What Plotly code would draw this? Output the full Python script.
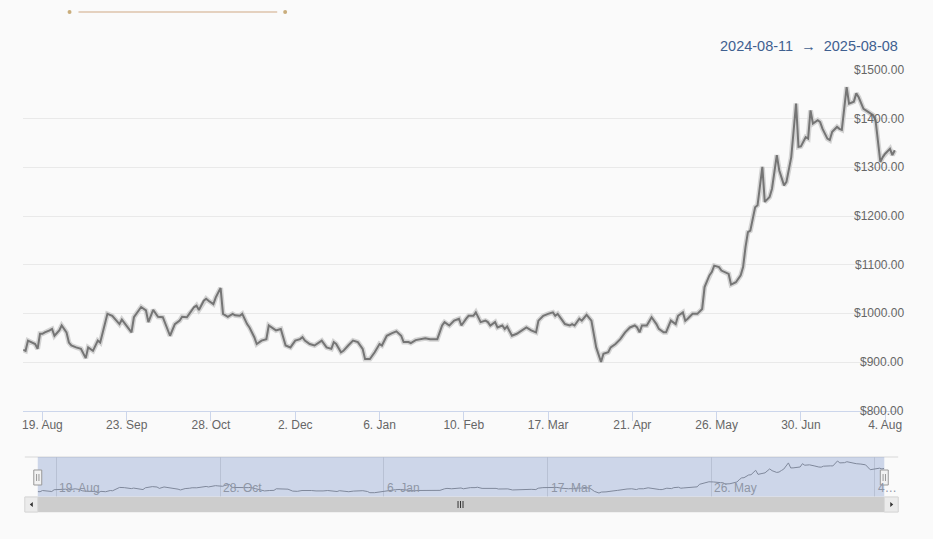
import plotly.graph_objects as go

# daily closing price
dates = [
    "2024-08-11", "2024-08-12", "2024-08-13", "2024-08-16", "2024-08-17", "2024-08-18", "2024-08-19", "2024-08-20",
    "2024-08-22", "2024-08-23", "2024-08-24", "2024-08-26", "2024-08-27", "2024-08-29", "2024-08-30", "2024-08-31",
    "2024-09-02", "2024-09-04", "2024-09-06", "2024-09-07", "2024-09-09", "2024-09-10", "2024-09-11", "2024-09-12",
    "2024-09-13", "2024-09-15", "2024-09-17", "2024-09-19", "2024-09-20", "2024-09-21", "2024-09-23", "2024-09-25",
    "2024-09-26", "2024-09-29",
    "2024-10-01", "2024-10-02", "2024-10-04", "2024-10-06", "2024-10-08", "2024-10-10", "2024-10-11", "2024-10-13",
    "2024-10-15", "2024-10-16", "2024-10-18", "2024-10-19", "2024-10-21", "2024-10-22", "2024-10-23", "2024-10-25",
    "2024-10-26", "2024-10-27", "2024-10-29", "2024-10-30",
    "2024-11-01", "2024-11-02", "2024-11-04", "2024-11-06", "2024-11-07", "2024-11-09", "2024-11-10", "2024-11-12",
    "2024-11-13", "2024-11-15", "2024-11-16", "2024-11-18", "2024-11-20", "2024-11-21", "2024-11-23", "2024-11-24",
    "2024-11-26", "2024-11-28", "2024-11-30",
    "2024-12-02", "2024-12-04", "2024-12-05", "2024-12-06", "2024-12-08", "2024-12-10", "2024-12-11", "2024-12-13",
    "2024-12-15", "2024-12-17", "2024-12-18", "2024-12-19", "2024-12-21", "2024-12-22", "2024-12-24", "2024-12-26",
    "2024-12-28", "2024-12-30", "2024-12-31",
    "2025-01-02", "2025-01-04", "2025-01-06", "2025-01-07", "2025-01-09", "2025-01-11", "2025-01-13", "2025-01-15",
    "2025-01-16", "2025-01-18", "2025-01-19", "2025-01-21", "2025-01-23", "2025-01-25", "2025-01-27", "2025-01-30",
    "2025-02-01", "2025-02-02", "2025-02-04", "2025-02-06", "2025-02-08", "2025-02-09", "2025-02-11", "2025-02-12",
    "2025-02-14", "2025-02-15", "2025-02-17", "2025-02-19", "2025-02-20", "2025-02-21", "2025-02-23", "2025-02-24",
    "2025-02-26", "2025-02-27", "2025-02-28",
    "2025-03-02", "2025-03-04", "2025-03-06", "2025-03-08", "2025-03-10", "2025-03-12", "2025-03-13", "2025-03-15",
    "2025-03-17", "2025-03-19", "2025-03-20", "2025-03-21", "2025-03-23", "2025-03-24", "2025-03-26", "2025-03-27",
    "2025-03-28", "2025-03-30", "2025-03-31",
    "2025-04-02", "2025-04-04", "2025-04-05", "2025-04-06", "2025-04-08", "2025-04-09", "2025-04-11", "2025-04-12",
    "2025-04-14", "2025-04-16", "2025-04-18", "2025-04-20", "2025-04-22", "2025-04-23", "2025-04-24", "2025-04-25",
    "2025-04-27", "2025-04-29",
    "2025-05-01", "2025-05-02", "2025-05-04", "2025-05-05", "2025-05-07", "2025-05-09", "2025-05-10", "2025-05-12",
    "2025-05-13", "2025-05-14", "2025-05-16", "2025-05-18", "2025-05-20", "2025-05-21", "2025-05-23", "2025-05-24",
    "2025-05-25", "2025-05-27", "2025-05-28", "2025-05-30", "2025-05-31",
    "2025-06-01", "2025-06-03", "2025-06-05", "2025-06-06", "2025-06-07", "2025-06-08", "2025-06-09", "2025-06-11",
    "2025-06-12", "2025-06-13", "2025-06-14", "2025-06-15", "2025-06-17", "2025-06-18", "2025-06-20", "2025-06-21",
    "2025-06-23", "2025-06-24", "2025-06-25", "2025-06-26", "2025-06-28", "2025-06-29", "2025-06-30",
    "2025-07-02", "2025-07-03", "2025-07-04", "2025-07-05", "2025-07-07", "2025-07-08", "2025-07-09", "2025-07-11",
    "2025-07-12", "2025-07-13", "2025-07-15", "2025-07-16", "2025-07-17", "2025-07-19", "2025-07-20", "2025-07-22",
    "2025-07-23", "2025-07-24", "2025-07-26", "2025-07-27", "2025-07-29", "2025-07-30", "2025-07-31",
    "2025-08-02", "2025-08-03", "2025-08-04", "2025-08-06", "2025-08-07", "2025-08-08",
]

prices = [
    925, 923, 944, 937, 927, 958, 958, 961,
    965, 968, 954, 965, 975, 961, 940, 934,
    930, 927, 908, 930, 923, 934, 944, 940,
    958, 999, 995, 985, 978, 987, 975, 961,
    992, 1013,
    1006, 982, 1007, 993, 992, 968, 954, 978,
    985, 993, 992, 999, 1013, 1016, 1007, 1026,
    1030, 1026, 1019, 1033,
    1052, 999, 993, 999, 996, 995, 999, 978,
    971, 951, 937, 944, 947, 975, 968, 965,
    968, 934, 930,
    944, 947, 951, 944, 937, 934, 937, 944,
    930, 927, 941, 937, 920, 923, 934, 944,
    941, 927, 906,
    906, 920, 937, 934, 954, 959, 963, 954,
    941, 941, 939, 945, 947, 949, 947, 947,
    975, 982, 975, 985, 989, 975, 989, 995,
    995, 1002, 982, 985, 982, 975, 982, 971,
    975, 968, 973,
    954, 958, 965, 971, 965, 961, 985, 995,
    999, 1002, 995, 999, 985, 978, 975, 978,
    975, 989, 985,
    997, 985, 961, 930, 900, 917, 920, 930,
    937, 947, 961, 971, 975, 971, 961, 975,
    975, 992,
    978, 968, 961, 961, 985, 978, 995, 1002,
    985, 989, 999, 999, 1009, 1054, 1078, 1085,
    1098, 1095, 1088, 1083, 1081,
    1059, 1064, 1078, 1095, 1136, 1167, 1170, 1218,
    1222, 1266, 1301, 1229, 1239, 1256, 1325, 1294,
    1263, 1270, 1297, 1321, 1431, 1342, 1343,
    1362, 1359, 1417, 1390, 1397, 1393, 1379, 1359,
    1356, 1373, 1383, 1379, 1377, 1465, 1431, 1435,
    1452, 1444, 1420, 1417, 1410, 1407, 1397,
    1311, 1321, 1328, 1338, 1325, 1335,
]

x_ticks = ["2024-08-19", "2024-09-23", "2024-10-28", "2024-12-02", "2025-01-06", "2025-02-10",
           "2025-03-17", "2025-04-21", "2025-05-26", "2025-06-30", "2025-08-04"]
y_ticks = [800, 900, 1000, 1100, 1200, 1300, 1400, 1500]
y_labels = ["$800.00", "$900.00", "$1000.00", "$1100.00", "$1200.00", "$1300.00", "$1400.00", "$1500.00"]
nav_ticks = ["2024-08-19", "2024-10-28", "2025-01-06", "2025-03-17", "2025-05-26", "2025-08-04"]
nav_labels = ["19. Aug", "28. Oct", "6. Jan", "17. Mar", "26. May", "4…"]
range_text = "2024-08-11 \u00a0→\u00a0 2025-08-08"

W, H = 933, 539
FONT = "Liberation Sans"
BG = "#fafafa"


def px(x):
    return x / W


def py(y):
    return 1 - y / H


fig = go.Figure()

# light halo under the price line
fig.add_trace(go.Scatter(x=dates, y=prices, mode="lines",
                         line=dict(color="#d4d4d4", width=5), hoverinfo="skip"))
fig.add_trace(go.Scatter(x=dates, y=prices, mode="lines",
                         line=dict(color="#757575", width=2)))
# navigator series
fig.add_trace(go.Scatter(x=dates, y=prices, mode="lines", xaxis="x2", yaxis="y2",
                         line=dict(color="#8a8a8a", width=1), hoverinfo="skip"))

shapes = []
# decorative rule at the top
shapes.append(dict(type="line", xref="paper", yref="paper", x0=px(78), x1=px(278),
                   y0=py(12), y1=py(12), line=dict(color="#cfa884", width=1)))
for cx in (69, 286):
    shapes.append(dict(type="circle", xref="paper", yref="paper", x0=px(cx - 2), x1=px(cx + 2),
                       y0=py(14), y1=py(10), fillcolor="#c9ad7c", line=dict(width=0)))

# navigator outline and mask
shapes.append(dict(type="line", xref="paper", yref="paper", x0=px(24), x1=px(903),
                   y0=py(457), y1=py(457), line=dict(color="#d8d8d8", width=1)))
shapes.append(dict(type="rect", xref="paper", yref="paper", x0=px(37), x1=px(889),
                   y0=py(497), y1=py(457), fillcolor="rgba(102,133,194,0.3)",
                   line=dict(width=0), layer="above"))

# scrollbar
shapes.append(dict(type="rect", xref="paper", yref="paper", x0=px(24), x1=px(903),
                   y0=py(512), y1=py(497), fillcolor="#f2f2f2", line=dict(color="#e6e6e6", width=1)))
shapes.append(dict(type="rect", xref="paper", yref="paper", x0=px(37), x1=px(889),
                   y0=py(512), y1=py(497), fillcolor="#cdcdcd", line=dict(width=0)))
for b0, b1 in ((24, 37), (889, 903)):
    shapes.append(dict(type="rect", xref="paper", yref="paper", x0=px(b0), x1=px(b1),
                       y0=py(512), y1=py(497), fillcolor="#ebebeb",
                       line=dict(color="#d6d6d6", width=1)))
shapes.append(dict(type="path", xref="paper", yref="paper",
                   path=f"M {px(32)},{py(502)} L {px(29)},{py(504.5)} L {px(32)},{py(507)} Z",
                   fillcolor="#333333", line=dict(width=0)))
shapes.append(dict(type="path", xref="paper", yref="paper",
                   path=f"M {px(895)},{py(502)} L {px(898)},{py(504.5)} L {px(895)},{py(507)} Z",
                   fillcolor="#333333", line=dict(width=0)))
for gx in (460, 462.5, 465):
    shapes.append(dict(type="line", xref="paper", yref="paper", x0=px(gx), x1=px(gx),
                       y0=py(501), y1=py(508), line=dict(color="#333333", width=1)))

# navigator handles
for hx in (37, 889):
    shapes.append(dict(type="rect", xref="paper", yref="paper", x0=px(hx - 4), x1=px(hx + 4),
                       y0=py(485), y1=py(470), fillcolor="#f2f2f2",
                       line=dict(color="#999999", width=1), layer="above"))
    for lx in (hx - 1.2, hx + 1.2):
        shapes.append(dict(type="line", xref="paper", yref="paper", x0=px(lx), x1=px(lx),
                           y0=py(481), y1=py(474), line=dict(color="#999999", width=1),
                           layer="above"))

annotations = [
    dict(text=range_text, xref="paper", yref="paper", x=px(905), y=py(46),
         xanchor="right", yanchor="middle", showarrow=False,
         font=dict(family=FONT, size=14.5, color="#3f6090")),
]
# price labels sit inside the plot, right-aligned on the gridlines
for val, lab in zip(y_ticks, y_labels):
    annotations.append(dict(text=lab, xref="paper", yref="y", x=px(910.5), y=val,
                            xanchor="right", yanchor="middle", showarrow=False,
                            font=dict(family=FONT, size=12, color="#666666")))
# navigator labels, left-aligned next to their gridlines
for d, lab in zip(nav_ticks, nav_labels):
    annotations.append(dict(text=lab, xref="x2", yref="paper", x=d, y=py(488),
                            xanchor="left", yanchor="middle", showarrow=False, xshift=1,
                            font=dict(family=FONT, size=12, color="#8f96a6")))

fig.update_layout(
    width=W, height=H,
    margin=dict(l=0, r=0, t=0, b=0),
    paper_bgcolor=BG, plot_bgcolor=BG,
    showlegend=False,
    hovermode=False,
    font=dict(family=FONT, size=12, color="#666666"),
    shapes=shapes,
    annotations=annotations,
    xaxis=dict(
        domain=[px(22.3), px(902)],
        range=["2024-08-11", "2025-08-09"],
        type="date",
        tickvals=x_ticks,
        tickformat="%-d. %b",
        ticks="outside", ticklen=9, tickcolor="#ccd6eb",
        ticklabelstandoff=-6,
        showline=True, linecolor="#ccd6eb", linewidth=1,
        showgrid=False, zeroline=False,
        tickfont=dict(family=FONT, size=12, color="#666666"),
        anchor="y",
    ),
    yaxis=dict(
        domain=[py(410.7), py(70)],
        range=[800, 1500],
        tickvals=y_ticks,
        showticklabels=False,
        showgrid=True, gridcolor="#e9e9e9", gridwidth=1,
        zeroline=False, showline=False,
        anchor="x",
    ),
    xaxis2=dict(
        domain=[px(37), px(889)],
        range=["2024-08-11", "2025-08-08"],
        type="date",
        tickvals=nav_ticks,
        showticklabels=False,
        ticks="", showline=False,
        showgrid=True, gridcolor="#dcdcdc", gridwidth=1,
        zeroline=False,
        anchor="y2",
    ),
    yaxis2=dict(
        domain=[py(497), py(457)],
        range=[830, 1535],
        showticklabels=False, showgrid=False, zeroline=False, showline=False,
        anchor="x2",
    ),
)

fig.write_html("out.html", config={"displayModeBar": False},
               post_script="document.body.style.margin='0';document.body.style.overflow='hidden';")
